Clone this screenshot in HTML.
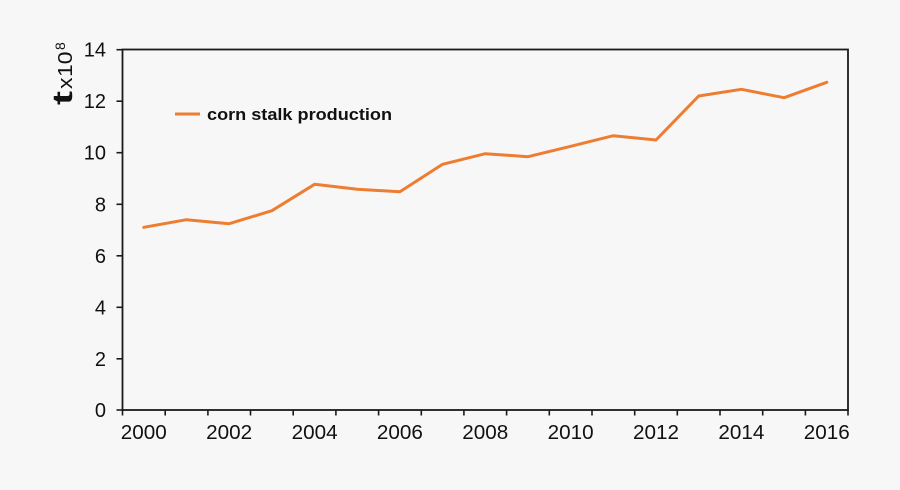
<!DOCTYPE html>
<html>
<head>
<meta charset="utf-8">
<style>
  html, body { margin:0; padding:0; background:#f7f7f7; }
  svg { display:block; }
  text { font-family: "Liberation Sans", "DejaVu Sans", sans-serif; fill:#111; }
</style>
</head>
<body>
<svg width="900" height="490" viewBox="0 0 900 490" xmlns="http://www.w3.org/2000/svg">
  <rect x="0" y="0" width="900" height="490" fill="#f7f7f7"/>

  <!-- plot frame -->
  <rect x="122.5" y="49.5" width="725.5" height="360.5" fill="none" stroke="#1a1a1a" stroke-width="1.8"/>

  <!-- y ticks -->
  <g stroke="#1a1a1a" stroke-width="1.6">
    <line x1="116.5" y1="49.7" x2="122.5" y2="49.7"/>
    <line x1="116.5" y1="101.2" x2="122.5" y2="101.2"/>
    <line x1="116.5" y1="152.7" x2="122.5" y2="152.7"/>
    <line x1="116.5" y1="204.3" x2="122.5" y2="204.3"/>
    <line x1="116.5" y1="255.8" x2="122.5" y2="255.8"/>
    <line x1="116.5" y1="307.3" x2="122.5" y2="307.3"/>
    <line x1="116.5" y1="358.8" x2="122.5" y2="358.8"/>
    <line x1="116.5" y1="410" x2="122.5" y2="410"/>
  </g>

  <!-- x ticks -->
  <g stroke="#1a1a1a" stroke-width="1.6">
    <line x1="122.5" y1="410" x2="122.5" y2="415.5"/>
    <line x1="165.2" y1="410" x2="165.2" y2="415.5"/>
    <line x1="207.9" y1="410" x2="207.9" y2="415.5"/>
    <line x1="250.5" y1="410" x2="250.5" y2="415.5"/>
    <line x1="293.2" y1="410" x2="293.2" y2="415.5"/>
    <line x1="335.9" y1="410" x2="335.9" y2="415.5"/>
    <line x1="378.6" y1="410" x2="378.6" y2="415.5"/>
    <line x1="421.3" y1="410" x2="421.3" y2="415.5"/>
    <line x1="463.9" y1="410" x2="463.9" y2="415.5"/>
    <line x1="506.6" y1="410" x2="506.6" y2="415.5"/>
    <line x1="549.3" y1="410" x2="549.3" y2="415.5"/>
    <line x1="592.0" y1="410" x2="592.0" y2="415.5"/>
    <line x1="634.7" y1="410" x2="634.7" y2="415.5"/>
    <line x1="677.3" y1="410" x2="677.3" y2="415.5"/>
    <line x1="720.0" y1="410" x2="720.0" y2="415.5"/>
    <line x1="762.7" y1="410" x2="762.7" y2="415.5"/>
    <line x1="805.4" y1="410" x2="805.4" y2="415.5"/>
    <line x1="848.0" y1="410" x2="848.0" y2="415.5"/>
  </g>

  <!-- y tick labels -->
  <g font-size="20" text-anchor="end">
    <text x="106" y="56.7">14</text>
    <text x="106" y="108.2">12</text>
    <text x="106" y="159.7">10</text>
    <text x="106" y="211.3">8</text>
    <text x="106" y="262.8">6</text>
    <text x="106" y="314.3">4</text>
    <text x="106" y="365.8">2</text>
    <text x="106" y="417">0</text>
  </g>

  <!-- x tick labels -->
  <g font-size="20" text-anchor="middle">
    <text x="143.8" y="439" textLength="46" lengthAdjust="spacingAndGlyphs">2000</text>
    <text x="229.2" y="439" textLength="46" lengthAdjust="spacingAndGlyphs">2002</text>
    <text x="314.6" y="439" textLength="46" lengthAdjust="spacingAndGlyphs">2004</text>
    <text x="399.9" y="439" textLength="46" lengthAdjust="spacingAndGlyphs">2006</text>
    <text x="485.3" y="439" textLength="46" lengthAdjust="spacingAndGlyphs">2008</text>
    <text x="570.7" y="439" textLength="46" lengthAdjust="spacingAndGlyphs">2010</text>
    <text x="656.0" y="439" textLength="46" lengthAdjust="spacingAndGlyphs">2012</text>
    <text x="741.4" y="439" textLength="46" lengthAdjust="spacingAndGlyphs">2014</text>
    <text x="826.8" y="439" textLength="46" lengthAdjust="spacingAndGlyphs">2016</text>
  </g>

  <!-- y axis title -->
  <g transform="translate(72,105) rotate(-90)">
    <text x="0" y="0" font-size="28" font-weight="bold" textLength="14" lengthAdjust="spacingAndGlyphs">t</text>
    <text x="16" y="0" font-size="20" textLength="11.5" lengthAdjust="spacingAndGlyphs">x</text>
    <text x="28" y="0" font-size="20" textLength="25.5" lengthAdjust="spacingAndGlyphs">10</text>
    <text x="55" y="-7" font-size="14">8</text>
  </g>

  <!-- data line -->
  <polyline fill="none" stroke="#ED7D31" stroke-width="3" stroke-linejoin="round" stroke-linecap="round"
    points="143.8,227.3 186.5,219.7 229.2,223.7 271.9,210.7 314.6,184.3 357.2,189.3 399.9,191.7 442.6,164.3 485.3,153.7 528.0,156.7 570.7,146.3 613.3,135.7 656.0,140 698.7,96 741.4,89.3 784.1,97.7 826.8,82.3"/>

  <!-- legend -->
  <line x1="175" y1="114" x2="200" y2="114" stroke="#ED7D31" stroke-width="3"/>
  <text x="207" y="120" font-size="17" font-weight="bold" fill="#1a1a1a" textLength="185" lengthAdjust="spacingAndGlyphs">corn stalk production</text>
</svg>
</body>
</html>
